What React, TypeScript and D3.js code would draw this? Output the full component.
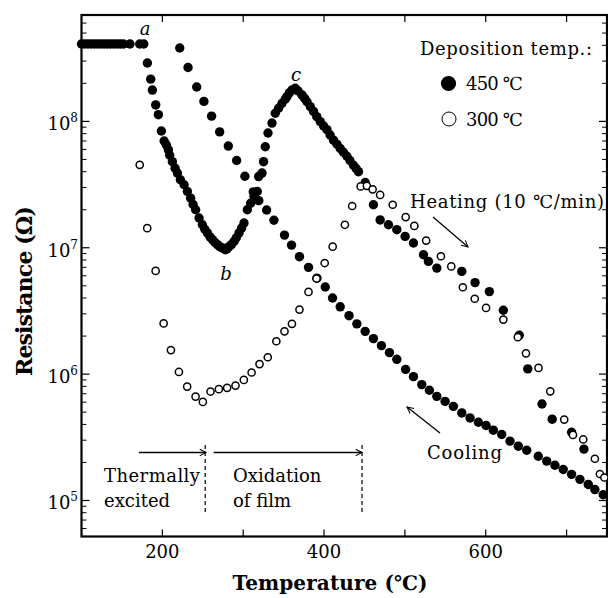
import React from 'react';
import * as d3 from 'd3';

const W = 608;
const H = 598;

// Axis domains
const tempDomain = [100, 750];
const resDomain = [Math.pow(10, 4.715), Math.pow(10, 8.842)];
const xTickValues = [200, 300, 400, 500, 600, 700];
const xTickLabels = [200, 400, 600];
const yMajorExp = [5, 6, 7, 8];

// 450 ℃ deposition, heating run (filled)
const heat450Temp = [100, 104, 108, 112, 116, 120, 124, 128, 132, 136, 140, 144, 148, 152, 160, 172, 177,
  181.5, 185.6, 187.7, 191.8, 195.1, 198.8, 202.2, 205, 207.5, 209.1, 212.4, 215.8, 218.6, 222.3, 226.9, 231, 235, 238,
  241.2, 245.4, 249.5, 252.5, 255.7, 259, 261.9, 265, 268, 271, 274.2, 277.9, 280, 282.5, 285.5, 288.7, 291.5, 294.8,
  298, 301, 305.1, 309.2, 313.4, 317.4, 319.1, 323.3, 325.2, 327.3, 330.7, 335.6, 339.7, 343.8, 348, 352, 354.1, 357,
  360.3, 364.4, 368, 372.7, 376, 378.9, 383, 387, 391, 395.3, 399.5, 403.6, 407.5, 411.7, 416, 420, 424, 428.3, 432,
  436.4, 439.5, 442.6, 450.9, 461.1, 469.4, 479.7, 490, 500.3, 510.6, 523, 529.1, 539.5, 570.4, 586.8, 604.5, 621.8,
  641.5, 652, 669.6, 682.2, 706.2, 721.5];
const heat450Res = [4.1e8, 4.1e8, 4.1e8, 4.1e8, 4.1e8, 4.1e8, 4.1e8, 4.1e8, 4.1e8, 4.1e8, 4.1e8, 4.1e8, 4.1e8, 4.1e8, 4.1e8, 4.1e8, 4.1e8,
  2.9e8, 2.16e8, 1.77e8, 1.35e8, 1.13e8, 8.4e7, 7.0e7, 6.5e7, 5.95e7, 5.4e7, 4.8e7, 4.26e7, 3.9e7, 3.45e7, 3.15e7, 2.79e7, 2.47e7, 2.2e7,
  2.0e7, 1.72e7, 1.52e7, 1.4e7, 1.31e7, 1.22e7, 1.16e7, 1.1e7, 1.06e7, 1.02e7, 9.95e6, 9.65e6, 9.8e6, 1.02e7, 1.06e7, 1.12e7, 1.2e7, 1.31e7,
  1.43e7, 1.57e7, 2.0e7, 2.25e7, 2.55e7, 2.79e7, 3.66e7, 3.9e7, 4.8e7, 6.3e7, 8.1e7, 9.7e7, 1.16e8, 1.27e8, 1.39e8, 1.5e8, 1.57e8, 1.68e8,
  1.77e8, 1.83e8, 1.74e8, 1.62e8, 1.52e8, 1.43e8, 1.31e8, 1.2e8, 1.09e8, 9.96e7, 9.2e7, 8.6e7, 7.8e7, 7.1e7, 6.6e7, 6.1e7, 5.7e7, 5.3e7, 4.9e7,
  4.5e7, 4.25e7, 4.0e7, 3.28e7, 2.19e7, 1.66e7, 1.52e7, 1.39e7, 1.23e7, 1.09e7, 8.8e6, 7.8e6, 6.9e6, 6.5e6, 5.3e6, 4.5e6, 3.2e6,
  2.03e6, 1.1e6, 5.8e5, 4.4e5, 3.47e5, 2.55e5];

// 450 ℃ deposition, cooling run (filled)
const cool450Temp = [221.5, 231.8, 242.5, 251.4, 260.9, 270.9, 281.6, 291.9, 302.1, 312.5, 319.3, 329, 338, 351.1, 359.8,
  369.6, 380.8, 391.2, 401.5, 410.5, 420, 430.9, 440.6, 450.9, 461.1, 471, 480.9, 490, 500.9, 510.6, 520.9, 530.3, 539.5,
  549.7, 560, 570.4, 580.6, 590.9, 600.4, 609.4, 619.8, 630, 640.3, 650.7, 665, 675.4, 685.6, 695.9, 706.2, 716.5, 726.8,
  735, 745.3];
const cool450Res = [3.81e8, 2.67e8, 1.87e8, 1.44e8, 1.1e8, 8.26e7, 6.38e7, 4.9e7, 3.68e7, 2.77e7, 2.36e7, 1.99e7, 1.65e7, 1.26e7, 1.05e7,
  8.5e6, 7.0e6, 5.75e6, 4.89e6, 4.0e6, 3.41e6, 2.9e6, 2.5e6, 2.18e6, 1.91e6, 1.68e6, 1.48e6, 1.31e6, 1.09e6, 9.55e5, 8.26e5, 7.45e5, 6.67e5,
  6.09e5, 5.56e5, 4.93e5, 4.5e5, 4.16e5, 3.92e5, 3.6e5, 3.33e5, 2.95e5, 2.69e5, 2.5e5, 2.24e5, 2.05e5, 1.9e5, 1.76e5, 1.61e5, 1.47e5, 1.34e5,
  1.22e5, 1.11e5];

// 300 ℃ deposition, heating run (open)
const heat300Temp = [172, 181.3, 191.7, 201.6, 210.6, 220.5, 230.7, 241.1, 250.1, 259.6, 269.9, 280.1, 290.5, 300.8, 310.4,
  320.2, 330.4, 341, 351.1, 360.3, 369.6, 380.8, 390.7, 400.8, 410.7, 425.8, 434.8, 445.3, 453, 460.1, 469.4, 484.9, 501,
  511.7, 526.3, 544.6, 557.4, 571.7, 586.4, 600.4, 621.8, 639.7, 649.8, 665.3, 679.8, 697.1, 707.9, 720.6, 735, 741.2, 746.8];
const heat300Res = [4.53e7, 1.43e7, 6.56e6, 2.52e6, 1.55e6, 1.04e6, 7.97e5, 6.64e5, 6.03e5, 7.28e5, 7.6e5, 7.79e5, 8.11e5, 9.0e5, 1.03e6,
  1.2e6, 1.36e6, 1.82e6, 2.18e6, 2.5e6, 3.24e6, 4.47e6, 5.71e6, 7.57e6, 1.02e7, 1.52e7, 2.14e7, 3.06e7, 3.09e7, 2.9e7, 2.62e7, 2.19e7, 1.75e7,
  1.49e7, 1.14e7, 8.57e6, 7.12e6, 4.87e6, 3.95e6, 3.34e6, 2.7e6, 1.96e6, 1.46e6, 1.12e6, 7.31e5, 4.37e5, 3.3e5, 3.04e5, 2.14e5, 1.62e5, 1.52e5];

// Annotation anchors (data units)
const regionBounds = [253, 447];
const regionArrowRes = 2.4e5;
const regionDashRes = [2.75e5, 7.7e4];
const thermalArrowStart = 171;
const oxidArrowStart = 263.5;

const FONT = '"DejaVu Serif", "Liberation Serif", serif';

export default function App() {
  const left = 81.5, right = 607, top = 15, bottom = 536.5;
  const x = d3.scaleLinear().domain(tempDomain).range([left, right]);
  const y = d3.scaleLog().domain(resDomain).range([bottom, top]);

  const minorY: number[] = [];
  for (let e = 4; e <= 8; e++) {
    for (let m = 2; m <= 9; m++) {
      const v = m * Math.pow(10, e);
      if (v >= resDomain[0] && v <= resDomain[1]) minorY.push(v);
    }
  }

  const heat450 = heat450Temp.map((t, i) => [t, heat450Res[i]]);
  const cool450 = cool450Temp.map((t, i) => [t, cool450Res[i]]);
  const heat300 = heat300Temp.map((t, i) => [t, heat300Res[i]]);

  const majTick = 8, minTick = 5;

  return (
    <svg width={W} height={H} style={{ position: 'absolute', left: 0, top: 0, background: '#fff' }} fontFamily={FONT}>
      <defs>
        <marker id="arr" viewBox="0 0 10 10" refX="9" refY="5" markerWidth="8" markerHeight="8" orient="auto" markerUnits="userSpaceOnUse">
          <path d="M1,1 L9,5 L1,9" fill="none" stroke="#000" strokeWidth="1.3" />
        </marker>
      </defs>
      <rect x={0} y={0} width={W} height={H} fill="#fff" />

      {/* ticks */}
      {xTickValues.map((t) => (
        <g key={'xt' + t}>
          <line x1={x(t)} x2={x(t)} y1={bottom} y2={bottom - 7} stroke="#000" strokeWidth={1.2} />
          <line x1={x(t)} x2={x(t)} y1={top} y2={top + 7} stroke="#000" strokeWidth={1.2} />
        </g>
      ))}
      {yMajorExp.map((e) => (
        <g key={'ym' + e}>
          <line x1={left} x2={left + majTick} y1={y(Math.pow(10, e))} y2={y(Math.pow(10, e))} stroke="#000" strokeWidth={1.2} />
          <line x1={right} x2={right - majTick} y1={y(Math.pow(10, e))} y2={y(Math.pow(10, e))} stroke="#000" strokeWidth={1.2} />
        </g>
      ))}
      {minorY.map((v) => (
        <g key={'yn' + v}>
          <line x1={left} x2={left + minTick} y1={y(v)} y2={y(v)} stroke="#000" strokeWidth={1} />
          <line x1={right} x2={right - minTick} y1={y(v)} y2={y(v)} stroke="#000" strokeWidth={1} />
        </g>
      ))}

      {/* frame */}
      <rect x={left} y={top} width={right - left} height={bottom - top} fill="none" stroke="#000" strokeWidth={2.2} />

      {/* tick labels */}
      {xTickLabels.map((t) => (
        <text key={'xl' + t} x={x(t)} y={558} textAnchor="middle" fontSize={18}>{t}</text>
      ))}
      {yMajorExp.map((e) => (
        <text key={'yl' + e} x={78} y={y(Math.pow(10, e)) + 9} textAnchor="end" fontSize={18}>
          10<tspan dy={-8} fontSize={12}>{e}</tspan>
        </text>
      ))}

      {/* axis titles */}
      <text x={330} y={590} textAnchor="middle" fontSize={20} fontWeight="bold" textLength={195}>Temperature (℃)</text>
      <text transform="translate(32,291) rotate(-90)" textAnchor="middle" fontSize={22} fontWeight="bold" textLength={170}>Resistance (Ω)</text>

      {/* data */}
      {cool450.map((d, i) => (
        <circle key={'c' + i} cx={x(d[0])} cy={y(d[1])} r={4.7} fill="#000" />
      ))}
      {heat450.map((d, i) => (
        <circle key={'h' + i} cx={x(d[0])} cy={y(d[1])} r={4.7} fill="#000" />
      ))}
      {heat300.map((d, i) => (
        <circle key={'o' + i} cx={x(d[0])} cy={y(d[1])} r={3.6} fill="#fff" stroke="#000" strokeWidth={1.5} />
      ))}

      {/* point labels */}
      <text x={145} y={35} fontSize={18} fontStyle="italic" textAnchor="middle">a</text>
      <text x={226} y={280} fontSize={18} fontStyle="italic" textAnchor="middle">b</text>
      <text x={296} y={81} fontSize={18} fontStyle="italic" textAnchor="middle">c</text>

      {/* legend */}
      <text x={420} y={55} fontSize={18} textLength={172}>Deposition temp.:</text>
      <circle cx={448.5} cy={83.5} r={7.6} fill="#000" />
      <text x={466} y={90} fontSize={18} textLength={57}>450 ℃</text>
      <circle cx={449} cy={119} r={7} fill="#fff" stroke="#000" strokeWidth={1} />
      <text x={466} y={126} fontSize={18} textLength={57}>300 ℃</text>

      {/* heating / cooling annotations */}
      <text x={410} y={208} fontSize={18} textLength={194}>Heating (10 ℃/min)</text>
      <line x1={433} y1={217} x2={468} y2={247} stroke="#000" strokeWidth={1.3} markerEnd="url(#arr)" />
      <text x={427} y={459} fontSize={18} textLength={75}>Cooling</text>
      <line x1={440} y1={433} x2={407} y2={407} stroke="#000" strokeWidth={1.3} markerEnd="url(#arr)" />

      {/* regions */}
      <line x1={x(thermalArrowStart)} x2={x(regionBounds[0]) + 1} y1={y(regionArrowRes)} y2={y(regionArrowRes)} stroke="#000" strokeWidth={1.5} markerEnd="url(#arr)" />
      <line x1={x(oxidArrowStart)} x2={x(regionBounds[1])} y1={y(regionArrowRes)} y2={y(regionArrowRes)} stroke="#000" strokeWidth={1.5} markerEnd="url(#arr)" />
      {regionBounds.map((b) => (
        <line key={'rb' + b} x1={x(b)} x2={x(b)} y1={y(regionDashRes[0])} y2={y(regionDashRes[1])} stroke="#000" strokeWidth={1.2} strokeDasharray="4,3" />
      ))}
      <text x={104} y={482} fontSize={18} textLength={96}>Thermally</text>
      <text x={104} y={507} fontSize={18}>excited</text>
      <text x={233} y={482} fontSize={18}>Oxidation</text>
      <text x={233} y={507} fontSize={18}>of film</text>
    </svg>
  );
}
